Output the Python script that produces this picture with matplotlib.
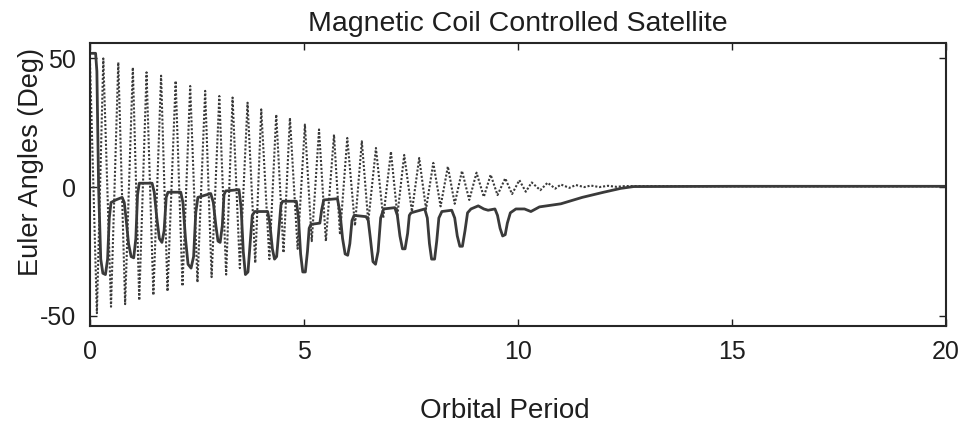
import matplotlib
matplotlib.use("Agg")
import matplotlib.pyplot as plt

# ---- data ----
# dotted series: successive extrema (peak/trough) of the oscillation
dotted_t = [0.0, 0.16, 0.31, 0.49, 0.66, 0.82, 1.0, 1.15, 1.32, 1.48, 1.66, 1.81,
            2.0, 2.16, 2.34, 2.51, 2.69, 2.84, 3.02, 3.18, 3.33, 3.5, 3.68, 3.86,
            4.0, 4.19, 4.35, 4.52, 4.67, 4.85, 5.02, 5.18, 5.35, 5.51, 5.7, 5.84,
            6.01, 6.19, 6.35, 6.5, 6.68, 6.85, 7.03, 7.18, 7.34, 7.52, 7.69, 7.85,
            8.02, 8.19, 8.36, 8.52, 8.69, 8.86, 9.03, 9.2, 9.36, 9.52, 9.7, 9.86,
            10.03, 10.18, 10.32, 10.52, 10.69, 10.87, 11.0, 11.2, 11.35, 11.55,
            11.7, 11.9, 12.1, 12.3, 12.5, 15.0, 20.0]
dotted_v = [48, -49, 50, -46.5, 48.5, -45.5, 46.5, -44, 44.6, -42, 43.3, -40.5,
            41.3, -38.5, 39.3, -37, 37.4, -35, 35.4, -34, 34.8, -31.5, 32.8, -29.5,
            30.2, -28, 28.2, -25.5, 26.9, -24, 24.3, -21, 22.4, -21, 20.4, -18.5,
            19.1, -15, 17.8, -13.5, 15.2, -12, 13.8, -11, 12.5, -9.5, 11.3, -8.5,
            9.4, -7.5, 8.0, -6.5, 6.3, -5, 5.6, -3.8, 4.8, -3.1, 3.4, -2.7,
            2.7, -1.8, 1.8, -1.2, 1.7, -0.6, 1.0, -0.3, 0.8, 0.0,
            0.6, 0.0, 0.5, 0.1, 0.4, 0.3, 0.3]

# solid series: points along the curve
solid_t = [0.0, 0.13, 0.16, 0.2, 0.25, 0.3, 0.36, 0.41, 0.45, 0.49, 0.6, 0.75, 0.8,
           0.84, 0.9, 0.96, 1.02, 1.07, 1.11, 1.15, 1.45,
           1.5, 1.56, 1.62, 1.68, 1.73, 1.78, 1.82, 2.12,
           2.17, 2.23, 2.29, 2.36, 2.42, 2.47, 2.52, 2.82,
           2.88, 2.94, 2.99, 3.04, 3.09, 3.13, 3.17, 3.48,
           3.53, 3.58, 3.63, 3.69, 3.74, 3.79, 3.85, 4.15,
           4.2, 4.26, 4.31, 4.36, 4.41, 4.46, 4.5, 4.82,
           4.87, 4.92, 4.97, 5.03, 5.08, 5.12, 5.16, 5.37, 5.41, 5.46, 5.78,
           5.84, 5.9, 5.96, 6.02, 6.07, 6.12, 6.17, 6.45,
           6.5, 6.55, 6.61, 6.67, 6.73, 6.79, 6.86, 7.12,
           7.18, 7.24, 7.3, 7.36, 7.42, 7.46, 7.5, 7.82,
           7.88, 7.93, 7.98, 8.05, 8.1, 8.15, 8.22, 8.45,
           8.52, 8.58, 8.64, 8.7, 8.76, 8.82, 8.9, 9.07, 9.2, 9.3, 9.46,
           9.52, 9.58, 9.64, 9.7, 9.75, 9.82, 9.95, 10.15, 10.3, 10.5,
           11.0, 11.5, 12.0, 12.4, 12.7, 15.0, 20.0]
solid_v = [52, 52, 45, 0, -28, -33.5, -34, -28, -12, -6, -5, -4, -6,
           -12, -22, -27, -27.5, -20, -3, 1.5, 1.5,
           -2, -12, -20, -21.5, -17, -4, -2, -2,
           -6, -20, -30, -31.5, -27, -10, -4, -2.5,
           -6, -15, -21, -21.5, -15, -3, -1.5, -1,
           -8, -25, -34, -33, -22, -11, -9.5, -9.5,
           -14, -24, -28, -27, -17, -7, -5.5, -5.5,
           -12, -26, -33, -33, -25, -16, -14.5, -14, -9, -5, -4.5,
           -10, -20, -26, -26.5, -22, -13, -11, -11.5,
           -13, -20, -29, -30, -25, -12, -8.5, -8,
           -11, -19, -24, -24, -18, -11, -10, -8.5,
           -12, -22, -28, -28, -21, -12, -9.5, -9,
           -12, -19, -23, -23, -17, -10, -8.5, -7.3, -8.5, -9, -8.5,
           -11, -16, -19, -18.5, -14, -10, -8.5, -8.5, -9.5, -7.7,
           -6.5, -4, -2, -0.5, 0.2, 0.3, 0.3]

x_ticks = [0, 5, 10, 15, 20]
y_ticks = [-50, 0, 50]

plt.rcParams['font.family'] = ['Liberation Sans', 'DejaVu Sans']
plt.rcParams['axes.unicode_minus'] = False

fig = plt.figure(figsize=(9.64, 4.28), dpi=100)
ax = fig.add_axes([0.0934, 0.2383, 0.8880, 0.6612])

ax.plot(dotted_t, dotted_v, color='#3a3a3a', linewidth=1.5, linestyle=(0, (1, 0.9)))
ax.plot(solid_t, solid_v, color='#3a3a3a', linewidth=2.0, solid_joinstyle='round')

ax.set_xlim(0, 20)
ax.set_ylim(-54, 56)
ax.set_xticks(x_ticks)
ax.set_yticks(y_ticks)
ax.tick_params(direction='in', length=5, width=1.0, top=True, right=True,
               labelsize=18, pad=10, colors='#1e1e1e')
for s in ax.spines.values():
    s.set_linewidth(1.5)
    s.set_color('#262626')

ax.set_title('Magnetic Coil Controlled Satellite', fontsize=20.5, pad=9, color='#1e1e1e')
ax.set_xlabel('Orbital Period', fontsize=20, color='#1e1e1e')
ax.xaxis.set_label_coords(0.484, -0.30)
ax.xaxis.label.set_va('center')
ax.set_ylabel('Euler Angles (Deg)', fontsize=19.5, color='#1e1e1e')
ax.yaxis.set_label_coords(-0.069, 0.58)
ax.yaxis.label.set_va('center')

fig.savefig('out.png', dpi=100)
